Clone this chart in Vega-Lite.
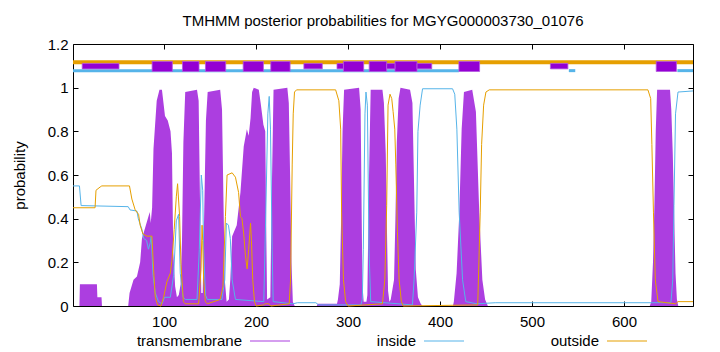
{
  "$schema": "https://vega.github.io/schema/vega-lite/v6.json",
  "width": 620,
  "height": 262,
  "autosize": {"type": "none"},
  "padding": {"left": 73, "top": 44, "right": 27, "bottom": 46},
  "background": "white",
  "config": {
    "font": "Liberation Sans",
    "view": {"stroke": "black", "strokeWidth": 1},
    "axis": {"grid": false, "domain": false, "tickColor": "black", "labelColor": "black", "labelFontSize": 15, "labelFont": "Liberation Sans", "titleFont": "Liberation Sans", "titleFontSize": 15, "titleFontWeight": "normal", "titleColor": "black"}
  },
  "title": {"text": "TMHMM posterior probabilities for MGYG000003730_01076", "fontSize": 15, "fontWeight": "normal", "font": "Liberation Sans", "color": "black", "offset": 8},
  "datasets": {
    "tm": [
      {"pos":1,"p":0},{"pos":8,"p":0},{"pos":8.5,"p":0.1},{"pos":27,"p":0.1},{"pos":27.5,"p":0.04},{"pos":32,"p":0.04},{"pos":32.5,"p":0},{"pos":61,"p":0},
      {"pos":62.5,"p":0.06},{"pos":66.8,"p":0.12},{"pos":70.5,"p":0.135},{"pos":74,"p":0.2},{"pos":76,"p":0.31},{"pos":79.5,"p":0.36},{"pos":83,"p":0.41},{"pos":84.5,"p":0.43},{"pos":85.5,"p":0.38},{"pos":87,"p":0.45},{"pos":88.5,"p":0.72},{"pos":92,"p":0.94},{"pos":95,"p":0.99},{"pos":97.7,"p":0.99},{"pos":101,"p":0.87},{"pos":104,"p":0.85},{"pos":107,"p":0.8},{"pos":108.6,"p":0.7},{"pos":110,"p":0.25},{"pos":112,"p":0.09},{"pos":114,"p":0.04},{"pos":116,"p":0.05},{"pos":118,"p":0.1},{"pos":119.5,"p":0.3},{"pos":121,"p":0.75},{"pos":123,"p":0.98},{"pos":135.8,"p":0.99},{"pos":137.6,"p":0.94},{"pos":139,"p":0.5},{"pos":140.5,"p":0.06},{"pos":142,"p":0.06},{"pos":143.5,"p":0.4},{"pos":145.5,"p":0.85},{"pos":147.4,"p":0.98},{"pos":161,"p":0.99},{"pos":163,"p":0.9},{"pos":164.5,"p":0.5},{"pos":166,"p":0.12},{"pos":168,"p":0.02},{"pos":170.5,"p":0.03},{"pos":172,"p":0.12},{"pos":174,"p":0.32},{"pos":179,"p":0.37},{"pos":183,"p":0.52},{"pos":186.6,"p":0.73},{"pos":190,"p":0.81},{"pos":192,"p":0.78},{"pos":194,"p":0.86},{"pos":195.7,"p":0.98},{"pos":197.5,"p":1.0},{"pos":203,"p":0.99},{"pos":205,"p":0.93},{"pos":208,"p":0.83},{"pos":210,"p":0.8},{"pos":211.2,"p":0.3},{"pos":212,"p":0.03},{"pos":215.5,"p":0.04},{"pos":217,"p":0.5},{"pos":219,"p":0.99},{"pos":234,"p":1.0},{"pos":235.6,"p":0.93},{"pos":237,"p":0.6},{"pos":238.5,"p":0.2},{"pos":240,"p":0.02},{"pos":242,"p":0},{"pos":266,"p":0},{"pos":267,"p":0.01},{"pos":288,"p":0.01},{"pos":289,"p":0.03},{"pos":291,"p":0.1},{"pos":292.5,"p":0.4},{"pos":294,"p":0.8},{"pos":295.7,"p":0.99},{"pos":312,"p":1.0},{"pos":313.7,"p":0.9},{"pos":315.6,"p":0.1},{"pos":317,"p":0.02},{"pos":320,"p":0.02},{"pos":321,"p":0.05},{"pos":322.8,"p":0.6},{"pos":324.6,"p":0.99},{"pos":337.4,"p":0.99},{"pos":339,"p":0.93},{"pos":341,"p":0.7},{"pos":342.5,"p":0.3},{"pos":343.5,"p":0.07},{"pos":345,"p":0.02},{"pos":346.4,"p":0.03},{"pos":350,"p":0.12},{"pos":351.5,"p":0.4},{"pos":353,"p":0.75},{"pos":355,"p":0.95},{"pos":357,"p":1.0},{"pos":367.4,"p":0.99},{"pos":370,"p":0.93},{"pos":371.8,"p":0.55},{"pos":373.6,"p":0.17},{"pos":376,"p":0.04},{"pos":379,"p":0.01},{"pos":381,"p":0},{"pos":414,"p":0},{"pos":415,"p":0.02},{"pos":418,"p":0.15},{"pos":421,"p":0.43},{"pos":423.5,"p":0.81},{"pos":426,"p":0.98},{"pos":435,"p":0.99},{"pos":439,"p":0.89},{"pos":442.6,"p":0.43},{"pos":446,"p":0.12},{"pos":449,"p":0.03},{"pos":452,"p":0},{"pos":628,"p":0},{"pos":629.6,"p":0.02},{"pos":631.5,"p":0.2},{"pos":633,"p":0.45},{"pos":634.5,"p":0.8},{"pos":636,"p":0.99},{"pos":650,"p":0.99},{"pos":651.4,"p":0.9},{"pos":653,"p":0.7},{"pos":654.3,"p":0.46},{"pos":656,"p":0.15},{"pos":657.5,"p":0.03},{"pos":659,"p":0},{"pos":675,"p":0}
    ],
    "inside": [
      {"pos":1,"p":0.55},{"pos":8,"p":0.55},{"pos":9.8,"p":0.46},{"pos":61,"p":0.455},{"pos":63,"p":0.44},{"pos":70.5,"p":0.435},{"pos":72,"p":0.4},{"pos":76,"p":0.35},{"pos":77.7,"p":0.31},{"pos":81,"p":0.3},{"pos":83,"p":0.26},{"pos":85,"p":0.29},{"pos":86,"p":0.32},{"pos":88,"p":0.14},{"pos":90.4,"p":0.06},{"pos":94,"p":0.02},{"pos":97.7,"p":0.01},{"pos":100.5,"p":0.04},{"pos":106.8,"p":0.04},{"pos":110.4,"p":0.14},{"pos":113.3,"p":0.39},{"pos":115.8,"p":0.42},{"pos":117.6,"p":0.15},{"pos":120.6,"p":0.04},{"pos":123,"p":0.03},{"pos":135.8,"p":0.03},{"pos":138.3,"p":0.26},{"pos":140.5,"p":0.6},{"pos":142,"p":0.53},{"pos":143,"p":0.26},{"pos":145,"p":0.05},{"pos":147,"p":0.03},{"pos":163,"p":0.03},{"pos":166,"p":0.12},{"pos":167.7,"p":0.38},{"pos":170,"p":0.37},{"pos":172,"p":0.31},{"pos":174,"p":0.12},{"pos":177.6,"p":0.03},{"pos":208.4,"p":0.02},{"pos":210.6,"p":0.43},{"pos":212.8,"p":0.88},{"pos":214.3,"p":0.96},{"pos":215.7,"p":0.81},{"pos":217.5,"p":0.26},{"pos":218.6,"p":0.02},{"pos":240,"p":0.01},{"pos":245,"p":0.015},{"pos":265,"p":0.015},{"pos":268,"p":0.005},{"pos":314,"p":0.005},{"pos":315.5,"p":0.03},{"pos":316.6,"p":0.26},{"pos":318.4,"p":0.88},{"pos":319.5,"p":0.98},{"pos":321,"p":0.92},{"pos":322.8,"p":0.26},{"pos":324.6,"p":0.02},{"pos":370,"p":0.005},{"pos":371.8,"p":0.12},{"pos":374.7,"p":0.43},{"pos":376,"p":0.8},{"pos":378.4,"p":0.92},{"pos":381,"p":0.995},{"pos":413.6,"p":0.995},{"pos":416,"p":0.97},{"pos":418.3,"p":0.81},{"pos":420.8,"p":0.43},{"pos":424.5,"p":0.12},{"pos":428,"p":0.02},{"pos":440,"p":0.01},{"pos":460,"p":0.015},{"pos":640,"p":0.015},{"pos":651,"p":0.015},{"pos":653,"p":0.12},{"pos":654.3,"p":0.46},{"pos":656,"p":0.88},{"pos":658.7,"p":0.98},{"pos":675,"p":0.985}
    ],
    "outside": [
      {"pos":1,"p":0.45},{"pos":25,"p":0.45},{"pos":26,"p":0.53},{"pos":30.5,"p":0.545},{"pos":32.3,"p":0.55},{"pos":62.4,"p":0.55},{"pos":65,"p":0.49},{"pos":68.6,"p":0.44},{"pos":72.3,"p":0.42},{"pos":74,"p":0.37},{"pos":77,"p":0.33},{"pos":81.3,"p":0.32},{"pos":86.8,"p":0.32},{"pos":88.6,"p":0.17},{"pos":90.4,"p":0.04},{"pos":93,"p":0.005},{"pos":96.6,"p":0},{"pos":99.5,"p":0.04},{"pos":103,"p":0.11},{"pos":106.8,"p":0.15},{"pos":108.6,"p":0.21},{"pos":111,"p":0.35},{"pos":113.3,"p":0.5},{"pos":114.7,"p":0.56},{"pos":116.9,"p":0.41},{"pos":118.4,"p":0.19},{"pos":121,"p":0.02},{"pos":123,"p":0.01},{"pos":137.6,"p":0.01},{"pos":140.2,"p":0.17},{"pos":141.3,"p":0.37},{"pos":142,"p":0.3},{"pos":143,"p":0.12},{"pos":144.9,"p":0.02},{"pos":147,"p":0.01},{"pos":161,"p":0.03},{"pos":164,"p":0.09},{"pos":166.7,"p":0.41},{"pos":168.5,"p":0.6},{"pos":174,"p":0.61},{"pos":177.6,"p":0.59},{"pos":181,"p":0.52},{"pos":183,"p":0.41},{"pos":184.7,"p":0.4},{"pos":186.6,"p":0.33},{"pos":188.5,"p":0.23},{"pos":190.3,"p":0.17},{"pos":192,"p":0.26},{"pos":194,"p":0.38},{"pos":195,"p":0.3},{"pos":196.4,"p":0.12},{"pos":198.3,"p":0.02},{"pos":200,"p":0},{"pos":208,"p":0.005},{"pos":210,"p":0.01},{"pos":214,"p":0.01},{"pos":216,"p":0},{"pos":236,"p":0.01},{"pos":237.5,"p":0.12},{"pos":239.3,"p":0.65},{"pos":240.4,"p":0.88},{"pos":241.8,"p":0.98},{"pos":244,"p":0.99},{"pos":286.5,"p":0.99},{"pos":290,"p":0.94},{"pos":292,"p":0.81},{"pos":293,"p":0.43},{"pos":295,"p":0.12},{"pos":297.4,"p":0.02},{"pos":300,"p":0},{"pos":337.4,"p":0.01},{"pos":340,"p":0.12},{"pos":342,"p":0.46},{"pos":343.5,"p":0.92},{"pos":345.6,"p":0.97},{"pos":347.5,"p":0.95},{"pos":349,"p":0.89},{"pos":350.8,"p":0.81},{"pos":351.9,"p":0.65},{"pos":353.7,"p":0.34},{"pos":355.5,"p":0.12},{"pos":358,"p":0.02},{"pos":360,"p":0},{"pos":441,"p":0.005},{"pos":443.7,"p":0.43},{"pos":445.2,"p":0.74},{"pos":447.4,"p":0.92},{"pos":449.9,"p":0.98},{"pos":453.5,"p":0.99},{"pos":626,"p":0.99},{"pos":629,"p":0.95},{"pos":630.3,"p":0.74},{"pos":632,"p":0.43},{"pos":634,"p":0.12},{"pos":637,"p":0.02},{"pos":656,"p":0.01},{"pos":658.7,"p":0.02},{"pos":675,"p":0.02}
    ],
    "top": [
      {"track":"outside","start":1,"end":675},
      {"track":"inside","start":1,"end":420.5},
      {"track":"inside","start":540,"end":547},
      {"track":"inside","start":658,"end":675},
      {"track":"weak","start":11,"end":51},
      {"track":"strong","start":87,"end":109},
      {"track":"strong","start":120,"end":138},
      {"track":"strong","start":145,"end":167},
      {"track":"strong","start":186,"end":208},
      {"track":"strong","start":216,"end":237},
      {"track":"weak","start":252,"end":272},
      {"track":"weak","start":288,"end":295},
      {"track":"strong","start":295,"end":317},
      {"track":"strong","start":323,"end":342},
      {"track":"weak","start":342,"end":351},
      {"track":"strong","start":351,"end":375},
      {"track":"weak","start":375,"end":391},
      {"track":"strong","start":420.5,"end":443},
      {"track":"weak","start":520,"end":539},
      {"track":"strong","start":635,"end":657}
    ]
  },
  "resolve": {"axis": {"x": "independent", "y": "independent"}},
  "layer": [
    {
      "data": {"name": "tm"},
      "mark": {"type": "area", "interpolate": "linear", "opacity": 1},
      "encoding": {
        "x": {"field": "pos", "type": "quantitative", "title": null, "scale": {"domain": [1, 675], "nice": false, "zero": false},
              "axis": {"values": [100, 200, 300, 400, 500, 600], "tickSize": -5, "labelPadding": 13, "labelFlush": false}},
        "y": {"field": "p", "type": "quantitative", "title": "probability", "scale": {"domain": [0, 1.2], "nice": false},
              "axis": {"values": [0, 0.2, 0.4, 0.6, 0.8, 1, 1.2], "format": "~g", "tickSize": -5, "labelPadding": 10, "titlePadding": 20}},
        "color": {"datum": "transmembrane", "type": "nominal",
                  "scale": {"domain": ["transmembrane", "inside", "outside"], "range": ["#ac3ee0", "#56b4e9", "#e69f00"]},
                  "legend": {"orient": "none", "legendX": 176, "legendY": 276, "direction": "horizontal", "title": null,
                             "symbolType": "stroke", "symbolSize": 1600, "symbolStrokeWidth": 1.2,
                             "labelAlign": "right", "labelOffset": -49, "labelFontSize": 15, "labelFont": "Liberation Sans", "labelColor": "black",
                             "columnPadding": 83, "padding": 0,
                             "encode": {"symbols": {"update": {"stroke": {"signal": "datum.value === 'transmembrane' ? '#9400d3' : scale('color', datum.value)"}, "fill": {"value": "transparent"}}}}}}
      }
    },
    {
      "data": {"name": "inside"},
      "mark": {"type": "line", "strokeWidth": 1},
      "encoding": {
        "x": {"field": "pos", "type": "quantitative", "title": null,
              "axis": {"orient": "top", "values": [100, 200, 300, 400, 500, 600], "labels": false, "tickSize": -5}},
        "y": {"field": "p", "type": "quantitative", "title": null,
              "axis": {"orient": "right", "values": [0, 0.2, 0.4, 0.6, 0.8, 1, 1.2], "labels": false, "tickSize": -5}},
        "color": {"datum": "inside", "type": "nominal"}
      }
    },
    {
      "data": {"name": "outside"},
      "mark": {"type": "line", "strokeWidth": 1},
      "encoding": {
        "x": {"field": "pos", "type": "quantitative", "title": null, "axis": null},
        "y": {"field": "p", "type": "quantitative", "title": null, "axis": null},
        "color": {"datum": "outside", "type": "nominal"}
      }
    },
    {
      "data": {"name": "top"},
      "transform": [{"filter": "datum.track === 'outside'"}],
      "mark": {"type": "rule", "color": "#e69f00", "strokeWidth": 4},
      "encoding": {
        "x": {"field": "start", "type": "quantitative", "title": null, "axis": null},
        "x2": {"field": "end"},
        "y": {"datum": 1.116, "axis": null}
      }
    },
    {
      "data": {"name": "top"},
      "transform": [{"filter": "datum.track === 'inside'"}],
      "mark": {"type": "rule", "color": "#56b4e9", "strokeWidth": 3},
      "encoding": {
        "x": {"field": "start", "type": "quantitative", "title": null, "axis": null},
        "x2": {"field": "end"},
        "y": {"datum": 1.078, "axis": null}
      }
    },
    {
      "data": {"name": "top"},
      "transform": [{"filter": "datum.track === 'strong'"}],
      "mark": {"type": "rect", "color": "#9400d3", "stroke": "#b45ae0", "strokeWidth": 0.8},
      "encoding": {
        "x": {"field": "start", "type": "quantitative", "title": null, "axis": null},
        "x2": {"field": "end"},
        "y": {"datum": 1.074, "axis": null},
        "y2": {"datum": 1.12}
      }
    },
    {
      "data": {"name": "top"},
      "transform": [{"filter": "datum.track === 'weak'"}],
      "mark": {"type": "rect", "color": "#9400d3", "stroke": "#b45ae0", "strokeWidth": 0.8},
      "encoding": {
        "x": {"field": "start", "type": "quantitative", "title": null, "axis": null},
        "x2": {"field": "end"},
        "y": {"datum": 1.086, "axis": null},
        "y2": {"datum": 1.111}
      }
    }
  ]
}
